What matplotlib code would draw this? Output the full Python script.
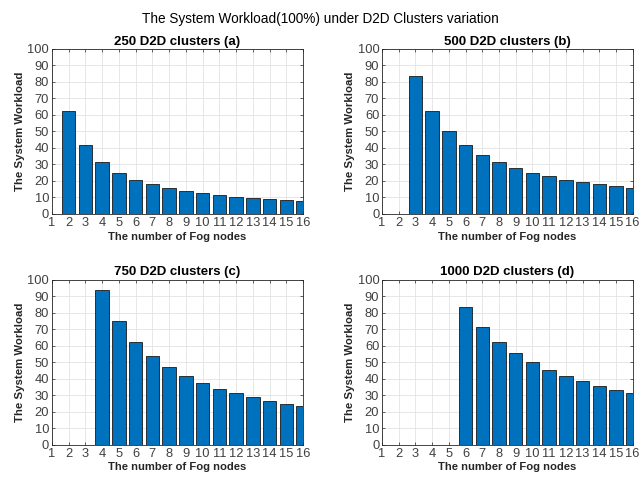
import matplotlib
matplotlib.use("Agg")
import matplotlib.pyplot as plt

plt.rcParams['font.family'] = ['Liberation Sans', 'DejaVu Sans']

# number of fog nodes
nodes = list(range(1, 17))

# workload (0 = no bar)
load_250 = [0, 62.5, 41.7, 31.3, 25.0, 20.8, 17.9, 15.6, 13.9, 12.5, 11.4, 10.4, 9.6, 8.9, 8.3, 7.8]
load_500 = [0, 0, 83.3, 62.5, 50.0, 41.7, 35.7, 31.3, 27.8, 25.0, 22.7, 20.8, 19.2, 17.9, 16.7, 15.6]
load_750 = [0, 0, 0, 93.8, 75.0, 62.5, 53.6, 46.9, 41.7, 37.5, 34.1, 31.3, 28.8, 26.8, 25.0, 23.4]
load_1000 = [0, 0, 0, 0, 0, 83.3, 71.4, 62.5, 55.6, 50.0, 45.5, 41.7, 38.5, 35.7, 33.3, 31.3]

titles = ["250 D2D clusters (a)", "500 D2D clusters (b)",
          "750 D2D clusters (c)", "1000 D2D clusters (d)"]
series = [load_250, load_500, load_750, load_1000]

# axes boxes [left, bottom, width, height] in figure fractions
boxes = [[0.081, 0.557, 0.392, 0.342],
         [0.596, 0.557, 0.391, 0.342],
         [0.081, 0.079, 0.392, 0.342],
         [0.596, 0.079, 0.391, 0.342]]

fig = plt.figure(figsize=(6.41, 4.83), dpi=100)
fig.text(0.5, 0.975, "The System Workload(100%) under D2D Clusters variation",
         ha="center", va="top", fontsize=9.8)

for box, vals, ttl in zip(boxes, series, titles):
    ax = fig.add_axes(box)
    ax.bar(nodes, vals, width=0.8, color="#0072BD", edgecolor="#1a1a1a", linewidth=0.6, zorder=3)
    ax.set_xlim(1, 16)
    ax.set_ylim(0, 100)
    ax.set_xticks(nodes)
    ax.set_yticks(range(0, 101, 10))
    ax.grid(True, color="#e3e3e3", linewidth=0.6, zorder=0)
    ax.tick_params(direction="in", top=True, right=True, labelsize=9.3,
                   labelcolor="#404040", length=2.5, width=0.5, pad=2, color="#262626")
    for sp in ax.spines.values():
        sp.set_linewidth(0.6)
        sp.set_color("#262626")
    ax.set_title(ttl, fontsize=9.5, fontweight="bold", pad=3)
    ax.set_xlabel("The number of Fog nodes", fontsize=8.1, fontweight="bold", labelpad=2, color="#262626")
    ax.set_ylabel("The System Workload", fontsize=8.2, fontweight="bold", labelpad=2, color="#262626")

plt.savefig("out.png", dpi=100)
